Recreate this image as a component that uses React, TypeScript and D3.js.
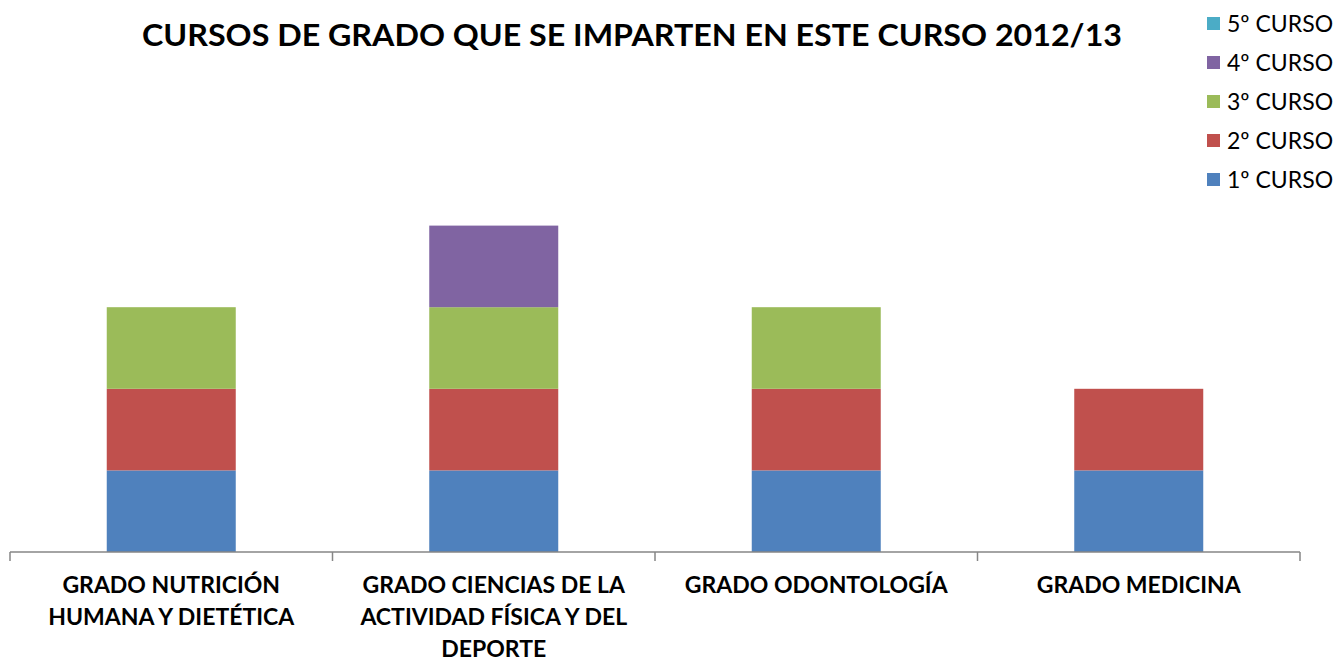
import React from "react";
import * as d3 from "d3";

const categories = [
  ["GRADO NUTRICIÓN", "HUMANA Y DIETÉTICA"],
  ["GRADO CIENCIAS DE LA", "ACTIVIDAD FÍSICA Y DEL", "DEPORTE"],
  ["GRADO ODONTOLOGÍA"],
  ["GRADO MEDICINA"],
];
const seriesNames = ["1º CURSO", "2º CURSO", "3º CURSO", "4º CURSO", "5º CURSO"];
const curso1 = [1, 1, 1, 1];
const curso2 = [1, 1, 1, 1];
const curso3 = [1, 1, 1, 0];
const curso4 = [0, 1, 0, 0];
const curso5 = [0, 0, 0, 0];
const colors = ["#4F81BD", "#C0504D", "#9BBB59", "#8064A2", "#4BACC6"];
const title = "CURSOS DE GRADO QUE SE IMPARTEN EN ESTE CURSO 2012/13";

export default function App() {
  const W = 1335, H = 662;
  const x0 = 10, x1 = 1300, yBase = 552, yTop = 144;
  const series = [curso1, curso2, curso3, curso4, curso5];
  const rows = categories.map((_, i) => {
    const r: any = { i };
    seriesNames.forEach((s, k) => (r[s] = series[k][i]));
    return r;
  });
  const stacked = d3.stack().keys(seriesNames)(rows);
  const x = d3.scaleBand<number>().domain(categories.map((_, i) => i)).range([x0, x1]).paddingInner(0.6).paddingOuter(0.3);
  const y = d3.scaleLinear().domain([0, 5]).range([yBase, yTop]);
  const step = (x1 - x0) / categories.length;
  const ticks = d3.range(categories.length + 1).map((i) => x0 + i * step);
  const font = "Lato, 'Open Sans', sans-serif";
  const legendOrder = [...seriesNames].reverse();
  return (
    <svg width={W} height={H} style={{ position: "absolute", left: 0, top: 0, background: "#fff" }}>
      <text x={632} y={46} textAnchor="middle" fontFamily={font} fontWeight="bold" fontSize={31} textLength={980} lengthAdjust="spacingAndGlyphs">{title}</text>
      {stacked.map((layer, k) => (
        <g key={layer.key} fill={colors[k]}>
          {layer.map((d, i) =>
            d[1] - d[0] > 0 ? (
              <rect key={i} x={x(i)} width={x.bandwidth()} y={y(d[1])} height={y(d[0]) - y(d[1])} />
            ) : null
          )}
        </g>
      ))}
      <line x1={x0} x2={x1} y1={yBase} y2={yBase} stroke="#868686" strokeWidth={1.5} />
      {ticks.map((t, i) => (
        <line key={i} x1={t} x2={t} y1={yBase} y2={yBase + 9} stroke="#868686" strokeWidth={1.5} />
      ))}
      {categories.map((lines, i) => (
        <text key={i} textAnchor="middle" fontFamily={font} fontWeight="bold" fontSize={23}>
          {lines.map((l, j) => (
            <tspan key={j} x={x(i)! + x.bandwidth() / 2} y={593 + j * 32}>{l}</tspan>
          ))}
        </text>
      ))}
      {legendOrder.map((s, j) => {
        const k = seriesNames.indexOf(s);
        const cy = 24 + j * 39;
        return (
          <g key={s}>
            <rect x={1207} y={cy - 7} width={13} height={13} fill={colors[k]} />
            <text x={1227} y={cy + 8} fontFamily={font} fontSize={23}>{s}</text>
          </g>
        );
      })}
    </svg>
  );
}
